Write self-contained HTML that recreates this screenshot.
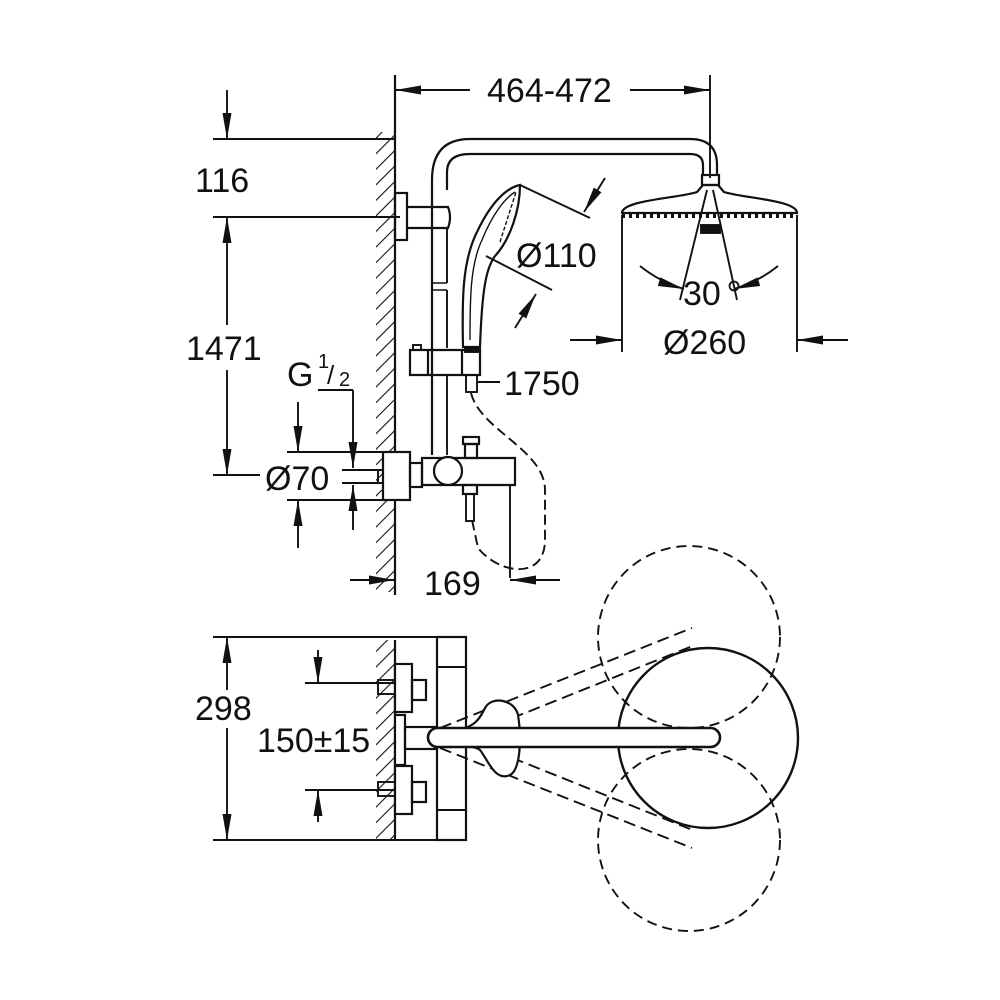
<!DOCTYPE html>
<html><head><meta charset="utf-8"><style>
html,body{margin:0;padding:0;background:#fff}
svg{display:block}
text{font-family:"Liberation Sans",Arial,sans-serif;fill:#111}
</style></head><body>
<svg width="1000" height="1000" viewBox="0 0 1000 1000" xmlns="http://www.w3.org/2000/svg">
<defs>
<marker id="a" viewBox="0 0 26 10" refX="26" refY="5" markerWidth="26" markerHeight="10" markerUnits="userSpaceOnUse" orient="auto"><path d="M0,0.5 L26,5 L0,9.5 Z" fill="#111"/></marker>
<pattern id="h" width="11" height="11" patternUnits="userSpaceOnUse" patternTransform="rotate(45)"><line x1="0" y1="0" x2="0" y2="11" stroke="#111" stroke-width="2.2"/></pattern>
</defs>
<g stroke="#111" stroke-width="1.9" fill="none">
<!-- walls -->
<rect x="376" y="132" width="19" height="460" fill="url(#h)" stroke="none"/>
<line x1="395" y1="75" x2="395" y2="595" stroke-width="2.2"/>
<rect x="376" y="640" width="19" height="200" fill="url(#h)" stroke="none"/>
<line x1="395" y1="640" x2="395" y2="840" stroke-width="2.2"/>

<!-- 464-472 -->
<line x1="710" y1="75" x2="710" y2="178"/>
<line x1="470" y1="90" x2="395" y2="90" marker-end="url(#a)"/>
<line x1="630" y1="90" x2="710" y2="90" marker-end="url(#a)"/>

<!-- 116 / 1471 -->
<line x1="213" y1="139" x2="395" y2="139"/>
<line x1="213" y1="217" x2="400" y2="217"/>
<line x1="227" y1="90" x2="227" y2="139" marker-end="url(#a)"/>
<line x1="227" y1="325" x2="227" y2="217" marker-end="url(#a)"/>
<line x1="227" y1="370" x2="227" y2="475" marker-end="url(#a)"/>
<line x1="213" y1="475" x2="260" y2="475"/>

<!-- Ø70 / G1/2 -->
<line x1="287" y1="452" x2="395" y2="452"/>
<line x1="287" y1="500" x2="395" y2="500"/>
<line x1="298" y1="402" x2="298" y2="452" marker-end="url(#a)"/>
<line x1="298" y1="548" x2="298" y2="500" marker-end="url(#a)"/>
<line x1="318" y1="390" x2="353" y2="390"/>
<line x1="353" y1="390" x2="353" y2="468" marker-end="url(#a)"/>
<line x1="353" y1="530" x2="353" y2="485" marker-end="url(#a)"/>
<line x1="342" y1="470" x2="382" y2="470"/>
<line x1="342" y1="483" x2="382" y2="483"/>
<rect x="378" y="470" width="8" height="13"/>

<!-- pipe -->
<path d="M432,455 L432,180 Q432,139 470,139 L690,139 Q717,139 717,165 L717,175" stroke-width="2.2"/>
<path d="M447,190 L447,172 Q447,154 470,154 L690,154 Q703,154 703,165 L703,175" stroke-width="2.2"/>
<line x1="447" y1="228" x2="447" y2="283"/>
<line x1="447" y1="290" x2="447" y2="348"/>
<line x1="447" y1="375" x2="447" y2="455"/>
<path d="M432,283 L447,283 M432,290 L447,290" stroke-width="1.5"/>
<!-- bracket -->
<rect x="395" y="193" width="12" height="47" stroke-width="2.2"/>
<path d="M407,207 L448,207 Q452,217 448,228 L407,228" stroke-width="2.2"/>
<!-- slider -->
<path d="M410,350 L480,350 L480,375 L410,375 Z M428,350 L428,375 M462,350 L462,375" stroke-width="2.2"/>
<rect x="413" y="345" width="8" height="5"/>
<!-- hand shower -->
<path d="M463,347 C462,300 462,260 478,230 C490,205 505,188 520,185 C520,210 510,240 495,256 C486,268 482,290 480,347 Z" stroke-width="2.2"/>
<path d="M470,340 C470,300 470,265 482,240 C492,215 505,198 515,192" stroke-width="1.4"/>
<path d="M500,242 L516,192" stroke-width="1.4" stroke-dasharray="4,2"/>
<rect x="465" y="347" width="15" height="5" fill="#111"/>
<rect x="466" y="375" width="11" height="17"/>
<line x1="478" y1="382" x2="500" y2="382"/>
<!-- Ø110 dims -->
<line x1="520" y1="185" x2="590" y2="218"/>
<line x1="486" y1="256" x2="552" y2="290"/>
<line x1="605" y1="178" x2="584" y2="212" marker-end="url(#a)"/>
<line x1="515" y1="328" x2="536" y2="294" marker-end="url(#a)"/>

<!-- hose -->
<path d="M471,393 C480,430 545,450 545,490 L545,540 C545,580 500,575 478,548 L472,520" stroke-dasharray="10,5"/>

<!-- mixer -->
<rect x="383" y="452" width="27" height="48" stroke-width="2.2" fill="#fff"/>
<rect x="410" y="463" width="12" height="24" stroke-width="2.2"/>
<path d="M422,458 L515,458 L515,485 L422,485 Z" stroke-width="2.2"/>
<circle cx="448" cy="471" r="14" stroke-width="2.2" fill="#fff"/>
<rect x="465" y="444" width="12" height="14" stroke-width="2.2"/>
<rect x="463" y="437" width="16" height="7" stroke-width="2.2"/>
<rect x="463" y="485" width="14" height="9" stroke-width="2.2"/>
<rect x="466" y="494" width="8" height="27"/>
<line x1="510" y1="485" x2="510" y2="578"/>
<line x1="350" y1="580" x2="395" y2="580" marker-end="url(#a)"/>
<line x1="560" y1="580" x2="510" y2="580" marker-end="url(#a)"/>

<!-- head shower -->
<rect x="702" y="175" width="17" height="10" stroke-width="2.2"/>
<path d="M622,213 C622,200 680,198 697,192 L703,185 L718,185 L724,192 C742,198 797,200 797,213 Z" stroke-width="2.2"/>
<path d="M622,216 L797,216" stroke-width="4" stroke-dasharray="3,4"/>
<rect x="701" y="225" width="19" height="8" fill="#111"/>
<line x1="622" y1="215" x2="622" y2="352"/>
<line x1="797" y1="215" x2="797" y2="352"/>
<line x1="570" y1="340" x2="622" y2="340" marker-end="url(#a)"/>
<line x1="848" y1="340" x2="797" y2="340" marker-end="url(#a)"/>
<line x1="707" y1="190" x2="680" y2="300"/>
<line x1="713" y1="190" x2="737" y2="300"/>
<path d="M640,266 Q660,282 684,289" marker-end="url(#a)"/>
<path d="M778,266 Q758,282 734,289" marker-end="url(#a)"/>

<!-- bottom view dims -->
<line x1="213" y1="637" x2="465" y2="637"/>
<line x1="213" y1="840" x2="465" y2="840"/>
<line x1="227" y1="690" x2="227" y2="637" marker-end="url(#a)"/>
<line x1="227" y1="728" x2="227" y2="840" marker-end="url(#a)"/>
<line x1="305" y1="683" x2="395" y2="683"/>
<line x1="305" y1="790" x2="395" y2="790"/>
<line x1="318" y1="650" x2="318" y2="683" marker-end="url(#a)"/>
<line x1="318" y1="822" x2="318" y2="790" marker-end="url(#a)"/>
<rect x="378" y="680" width="17" height="14"/>
<rect x="378" y="782" width="17" height="14"/>

<!-- bottom view body -->
<rect x="437" y="637" width="29" height="203" stroke-width="2.2" fill="#fff"/>
<line x1="437" y1="667" x2="466" y2="667"/>
<line x1="437" y1="810" x2="466" y2="810"/>
<rect x="395" y="664" width="17" height="48" stroke-width="2.2" fill="#fff"/>
<rect x="395" y="715" width="10" height="50" stroke-width="2.2" fill="#fff"/>
<rect x="395" y="766" width="17" height="48" stroke-width="2.2" fill="#fff"/>
<rect x="412" y="680" width="14" height="20" stroke-width="2.2"/>
<rect x="412" y="782" width="14" height="20" stroke-width="2.2"/>
<rect x="405" y="727" width="32" height="22" stroke-width="2.2"/>

<!-- circles -->
<circle cx="689" cy="637" r="91" stroke-dasharray="10,6"/>
<circle cx="689" cy="840" r="91" stroke-dasharray="10,6"/>
<circle cx="708" cy="738" r="90" stroke-width="2.4"/>
<path d="M440,728 L692,628 M445,745 L695,645" stroke-dasharray="12,6"/>
<path d="M440,748 L692,848 M445,731 L695,831" stroke-dasharray="12,6"/>
<!-- hand shower top -->
<path d="M455,730 C475,728 480,718 485,708 C492,695 515,700 518,715 C522,740 520,770 510,775 C495,782 488,760 480,750 C475,746 465,746 455,746" stroke-width="2.2" fill="#fff"/>
<rect x="428" y="728" width="292" height="19" rx="9.5" stroke-width="2.6" fill="#fff"/>
</g>
<g font-size="34">
<text x="487" y="102">464-472</text>
<text x="195" y="192">116</text>
<text x="186" y="360">1471</text>
<text x="287" y="386">G</text>
<text x="318" y="368" font-size="20">1</text>
<text x="327" y="384" font-size="26">/</text>
<text x="339" y="386" font-size="20">2</text>
<text x="265" y="490">Ø70</text>
<text x="504" y="395">1750</text>
<text x="424" y="595">169</text>
<text x="516" y="267">Ø110</text>
<text x="683" y="305">30</text>
<text x="663" y="354">Ø260</text>
<text x="195" y="720">298</text>
<text x="257" y="752">150±15</text>
</g>
<circle cx="734" cy="286" r="4.5" fill="none" stroke="#111" stroke-width="1.8"/>
</svg>
</body></html>
